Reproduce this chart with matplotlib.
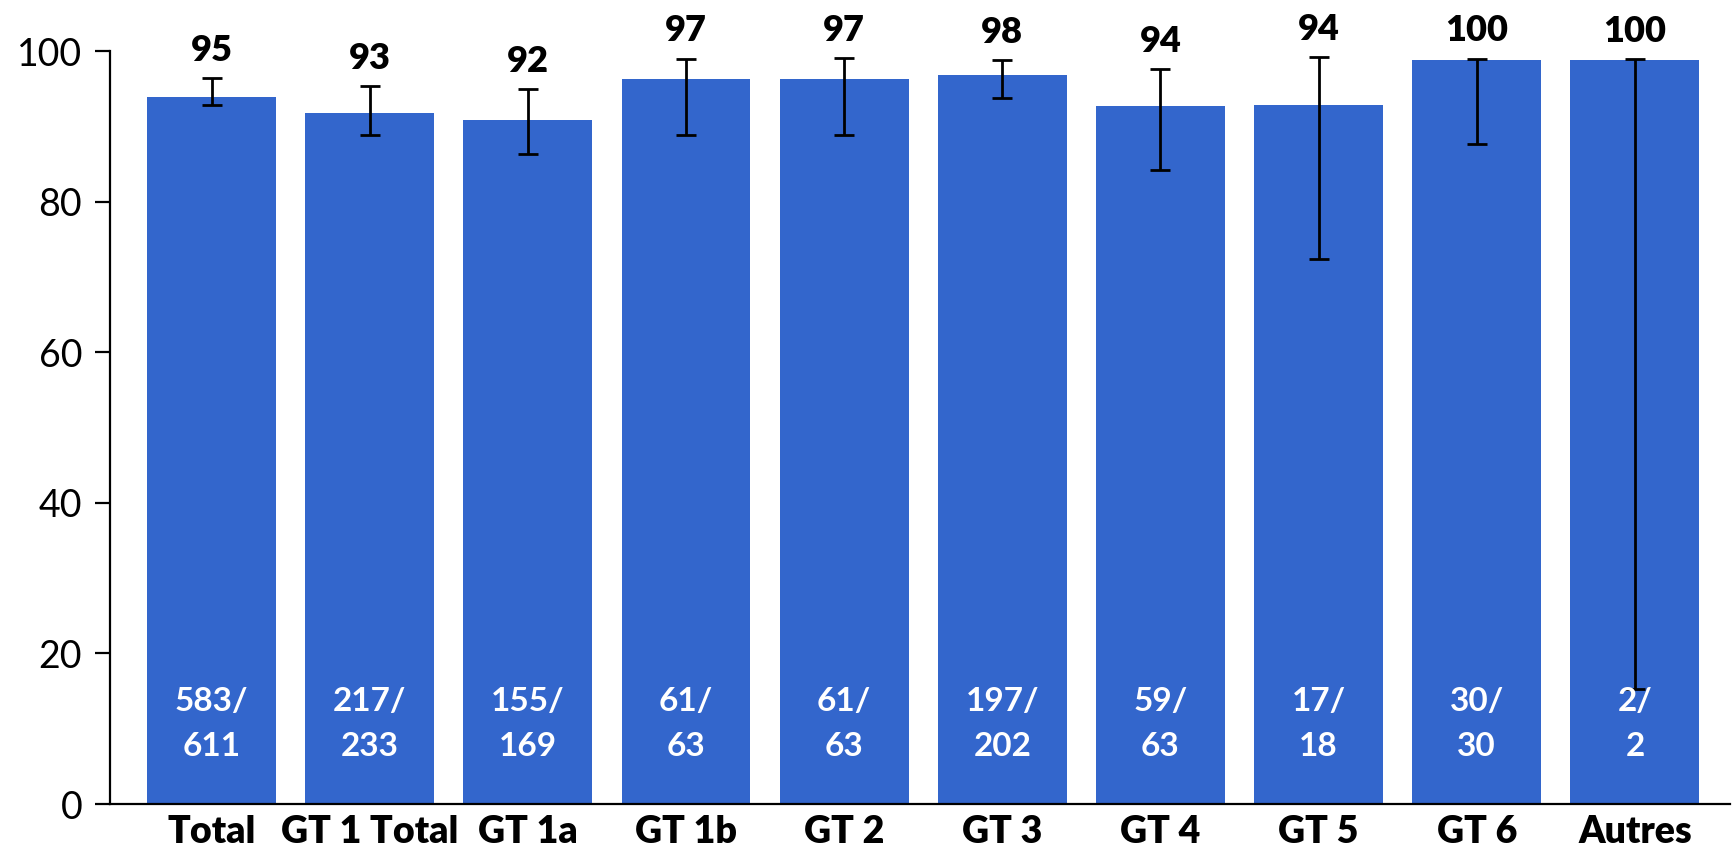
import matplotlib
matplotlib.use("Agg")
import matplotlib.pyplot as plt

plt.rcParams['font.family'] = ['Lato', 'DejaVu Sans']

categories = ['Total', 'GT 1 Total', 'GT 1a', 'GT 1b', 'GT 2', 'GT 3',
              'GT 4', 'GT 5', 'GT 6', 'Autres']
heights = [93.9, 91.8, 90.8, 96.3, 96.3, 96.8, 92.7, 92.8, 98.8, 98.8]
ci_high = [96.4, 95.4, 94.9, 99.0, 99.1, 98.8, 97.6, 99.2, 99.0, 98.9]
ci_low = [92.8, 88.9, 86.3, 88.9, 88.8, 93.7, 84.2, 72.4, 87.7, 15.3]
pct_labels = ['95', '93', '92', '97', '97', '98', '94', '94', '100', '100']
n_ok = [583, 217, 155, 61, 61, 197, 59, 17, 30, 2]
n_tot = [611, 233, 169, 63, 63, 202, 63, 18, 30, 2]


def paint():
    fig = plt.figure(figsize=(17.35, 8.56), dpi=100)
    ax = fig.add_axes([0.0634, 0.0607, 0.9336, 0.8797])

    x = list(range(len(categories)))
    yerr = [[h - lo for h, lo in zip(heights, ci_low)],
            [hi - h for h, hi in zip(heights, ci_high)]]
    ax.bar(x, heights, width=0.815, color='#3366CC', zorder=2)
    ax.errorbar(x, heights, yerr=yerr, fmt='none', ecolor='black',
                elinewidth=2, capsize=7.5, capthick=2, zorder=3)

    for i in x:
        ax.annotate(pct_labels[i], (i, ci_high[i]), xytext=(0, 8),
                    textcoords='offset points', ha='center', va='bottom',
                    fontsize=26, fontweight='heavy', annotation_clip=False)
        ax.text(i, 10.6, "%d/\n%d" % (n_ok[i], n_tot[i]), ha='center',
                va='center', color='white', fontsize=24, fontweight='bold',
                linespacing=1.65, zorder=4)

    ax.set_xlim(-0.642, 9.6)
    ax.set_ylim(0, 100)
    ax.set_yticks([0, 20, 40, 60, 80, 100])
    ax.set_xticks(x)
    ax.set_xticklabels(categories, fontsize=27, fontweight='heavy')
    ax.tick_params(axis='x', length=0, pad=8)
    ax.tick_params(axis='y', labelsize=27, length=11, width=1.6, pad=9)
    for s in ['top', 'right']:
        ax.spines[s].set_visible(False)
    for s in ['left', 'bottom']:
        ax.spines[s].set_linewidth(1.6)
    ax.spines['bottom'].set_zorder(5)

    fig.savefig("out.png", dpi=100)


paint()
